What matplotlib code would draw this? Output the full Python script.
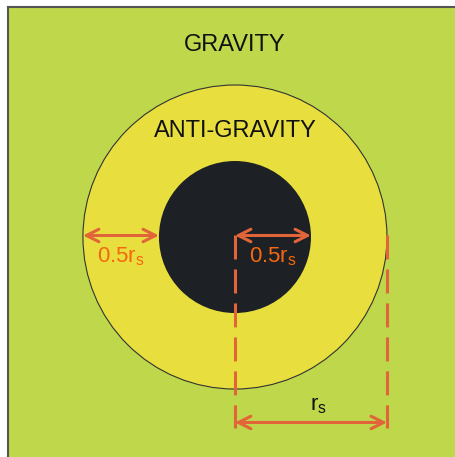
import matplotlib
matplotlib.use('Agg')
import matplotlib.pyplot as plt
from matplotlib.patches import Circle

plt.rcParams['font.family'] = ['Liberation Sans', 'DejaVu Sans']

# geometry in units of r_s
r_outer = 1.0
r_inner = 0.5
region_labels = ['GRAVITY', 'ANTI-GRAVITY']
region_label_y = [1.26, 0.70]
half_label = '0.5r$_\\mathregular{s}$'
full_label = 'r$_\\mathregular{s}$'

bg_green = '#BED74B'
ring_yellow = '#E8DF3E'
core_black = '#1D2024'
arrow_col = '#E2653A'
text_orange = '#F5680F'


def main():
	fig = plt.figure(figsize=(4.56, 4.57), dpi=100)
	ax = fig.add_axes([8 / 456, 0, 448 / 456, 450 / 457])
	ax.set_facecolor(bg_green)
	ax.set_xlim(-1.493, 1.454)
	ax.set_ylim(-1.447, 1.513)
	ax.set_aspect('equal')
	ax.set_xticks([]), ax.set_yticks([])
	for side in ['right', 'bottom']:
		ax.spines[side].set_visible(False)
	for side in ['top', 'left']:
		ax.spines[side].set_color('#555555')
		ax.spines[side].set_linewidth(1.5)

	ax.add_patch(Circle((0, 0), r_outer, facecolor=ring_yellow, edgecolor='#333333', lw=0.8))
	ax.add_patch(Circle((0, 0), r_inner, facecolor=core_black, edgecolor='none'))

	ax.text(0, region_label_y[0], region_labels[0], ha='center', va='center', fontsize=17, color='#111111')
	ax.text(0, region_label_y[1], region_labels[1], ha='center', va='center', fontsize=17, color='#111111')

	arrow_kw = dict(arrowstyle='<->,head_length=0.9,head_width=0.45', color=arrow_col, lw=2.2,
		shrinkA=0, shrinkB=0)
	y_arr = 0.01
	# left ring width
	ax.annotate('', xy=(-r_outer, y_arr), xytext=(-r_inner, y_arr), arrowprops=arrow_kw)
	ax.text(-(r_outer + r_inner) / 2, -0.13, half_label, ha='center', va='center', fontsize=16, color=text_orange)
	# inner radius
	ax.annotate('', xy=(0, y_arr), xytext=(r_inner, y_arr), arrowprops=arrow_kw)
	ax.text(r_inner / 2, -0.13, half_label, ha='center', va='center', fontsize=16, color=text_orange)

	# dashed guides
	y_low = -1.257
	for x in [0, r_outer]:
		ax.plot([x, x], [y_arr, y_low], color=arrow_col, lw=2.2, dashes=(7.85, 3.27), solid_capstyle='butt')
	y_b = -1.22
	ax.annotate('', xy=(0, y_b), xytext=(r_outer, y_b), arrowprops=arrow_kw)
	ax.text(r_outer / 2 + 0.05, -1.11, full_label, ha='center', va='center', fontsize=16, color='#111111')

	fig.savefig('out.png', dpi=100, facecolor='white')


if __name__ == "__main__":
	main()
